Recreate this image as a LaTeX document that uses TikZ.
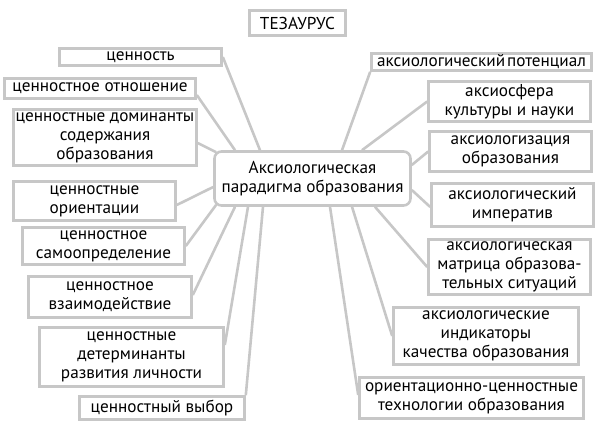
\documentclass[tikz,border=0pt]{standalone}
\usepackage{fontspec}
\setmainfont{PT Sans}

\begin{document}
\begin{tikzpicture}[x=1pt, y=-1pt, font=\fontsize{17.2}{19}\selectfont,
  term/.style={draw=black!22, line width=2.6pt, align=center, inner sep=0pt},
  hub/.style={term, rounded corners=7pt},
  link/.style={draw=black!22, line width=2.6pt}]

\useasboundingbox (0,0) rectangle (610,446);

% =================================================================================
% TITLE AND HUB
% =================================================================================
\node[term, minimum width=96pt, minimum height=25pt]  (title) at (297.5,23) {ТЕЗАУРУС};
\node[hub,  minimum width=196pt, minimum height=54pt] (hub)   at (312.5,178.5)
  {Аксиологическая\\парадигма образования};

% =================================================================================
% LEFT COLUMN
% =================================================================================
\node[term, minimum width=162pt, minimum height=17pt] (val)  at (140.5,57)  {ценность};
\node[term, minimum width=191pt, minimum height=20pt] (rel)  at (100,88.5)  {ценностное отношение};
\node[term, minimum width=183pt, minimum height=56pt] (dom)  at (105,137.5) {ценностные доминанты\\содержания\\образования};
\node[term, minimum width=162pt, minimum height=39pt] (ori)  at (94.5,201)  {ценностные\\ориентации};
\node[term, minimum width=162pt, minimum height=37pt] (self) at (103.5,246) {ценностное\\самоопределение};
\node[term, minimum width=163pt, minimum height=41pt] (inter) at (110,297)  {ценностное\\взаимодействие};
\node[term, minimum width=184pt, minimum height=59pt] (det)  at (131.5,357) {ценностные\\детерминанты\\развития личности};
\node[term, minimum width=165pt, minimum height=23pt] (choice) at (162,408) {ценностный выбор};

% =================================================================================
% RIGHT COLUMN
% =================================================================================
\node[term, minimum width=220pt, minimum height=17pt] (pot)  at (481.5,62)  {аксиологический\hspace{2pt}потенциал};
\node[term, minimum width=162pt, minimum height=40pt] (sph)  at (509.5,101.5) {аксиосфера\\культуры и науки};
\node[term, minimum width=162pt, minimum height=40pt] (axz)  at (510.5,151.5) {аксиологизация\\образования};
\node[term, minimum width=162pt, minimum height=43pt] (imp)  at (512.5,205) {аксиологический\\императив};
\node[term, minimum width=162pt, minimum height=55pt] (mat)  at (509.5,267) {аксиологическая\\матрица образова-\\тельных ситуаций};
\node[term, minimum width=185pt, minimum height=57pt] (ind)  at (486,336)   {аксиологические\\индикаторы\\качества образования};
\node[term, minimum width=224pt, minimum height=41pt] (tech) at (471.5,398) {ориентационно-ценностные\\технологии образования};

% =================================================================================
% CONNECTORS: every term to the hub
% =================================================================================
\draw[link] (val.east) -- ([xshift=-52.5pt]hub.north);
\draw[link] ([yshift=-6.5pt]rel.east) -- ([xshift=-77.5pt]hub.north);
\draw[link] ([yshift=-5.5pt]dom.east) -- ([xshift=3pt,yshift=-2pt]hub.north west);
\draw[link] ([yshift=-4pt]ori.east) -- ([yshift=-8.5pt]hub.west);
\draw[link] (self.east) -- ([xshift=3pt,yshift=2pt]hub.south west);
\draw[link] ([yshift=2pt]inter.east) -- ([xshift=-77.5pt]hub.south);
\draw[link] ([yshift=12pt]det.east) -- ([xshift=-64.5pt]hub.south);
\draw[link] (choice.north east) -- ([xshift=-49.5pt]hub.south);

\draw[link] (pot.south west) -- ([xshift=29.5pt]hub.north);
\draw[link] (sph.west) -- ([xshift=49.5pt]hub.north);
\draw[link] (axz.west) -- ([yshift=13.5pt]hub.east);
\draw[link] ([yshift=-2pt]imp.west) -- ([yshift=-11.5pt]hub.east);
\draw[link] (mat.west) -- ([xshift=62.5pt]hub.south);
\draw[link] (ind.west) -- ([xshift=39.5pt]hub.south);
\draw[link] ([yshift=3pt]tech.west) -- ([xshift=17.5pt]hub.south);

\end{tikzpicture}
\end{document}
